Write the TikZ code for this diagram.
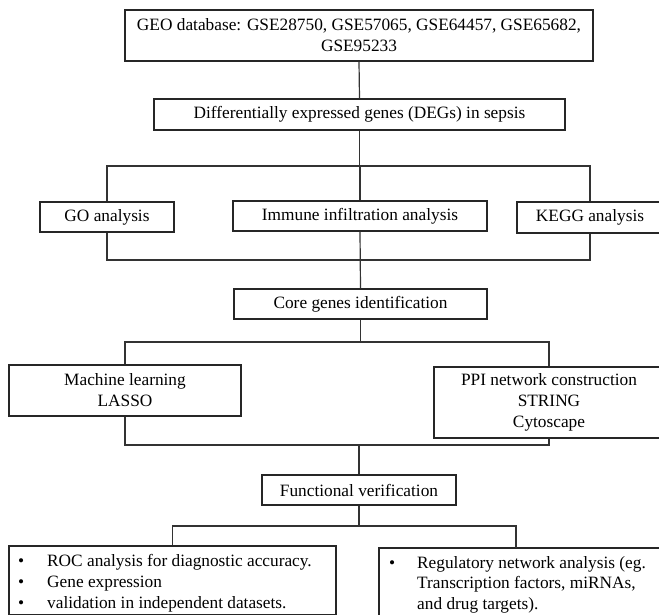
\documentclass[tikz,border=0pt]{standalone}
\usepackage{fontspec}
\setmainfont{Liberation Serif}
\begin{document}
\begin{tikzpicture}[x=1pt,y=-1pt,
  box/.style={draw=black!85,fill=white,line width=1.3pt,inner sep=0pt,align=center,
    font=\fontsize{17.3}{21}\selectfont},
  txt/.style={inner sep=0pt,font=\fontsize{17.3}{21}\selectfont},
  conn/.style={draw=black!80,line width=1.2pt}]
\useasboundingbox (0,0) rectangle (659,615);
% boxes
\node[box,minimum width=468,minimum height=51] (geo) at (359,35.5)
  {GEO database: GSE28750, GSE57065, GSE64457, GSE65682,\\GSE95233};
\node[box,minimum width=411,minimum height=31] (deg) at (359.5,114.5)
  {Differentially expressed genes (DEGs) in sepsis};
\node[box,minimum width=134,minimum height=30] (go) at (107,217) {GO analysis};
\node[box,minimum width=254,minimum height=30] (imm) at (360,216) {Immune infiltration analysis};
\node[box,minimum width=146,minimum height=31] (kegg) at (590,217.5) {KEGG analysis};
\node[box,minimum width=253,minimum height=30] (core) at (360.5,304) {Core genes identification};
\node[box,minimum width=232,minimum height=51] (ml) at (125,390.5) {Machine learning\\LASSO};
\node[box,minimum width=230,minimum height=71] (ppi) at (549,402.5)
  {PPI network construction\\STRING\\Cytoscape};
\node[box,minimum width=194,minimum height=30] (func) at (359,490) {Functional verification};
\node[box,minimum width=327,minimum height=68.5] (roc) at (172.5,580.25) {};
\node[box,minimum width=286,minimum height=92] (reg) at (522,594) {};
\node[txt,anchor=base west] (roct) at (18,566)
  {\begin{tabular}[t]{@{}p{29pt}@{}l@{}}
   \textbullet & ROC analysis for diagnostic accuracy.\\
   \textbullet & Gene expression\\
   \textbullet & validation in independent datasets.
   \end{tabular}};
\node[txt,anchor=base west] (regt) at (389,568)
  {\begin{tabular}[t]{@{}p{28pt}@{}l@{}}
   \textbullet & Regulatory network analysis (eg.\\[-0.5pt]
   & Transcription factors, miRNAs,\\[-0.5pt]
   & and drug targets).
   \end{tabular}};
% hub coordinates
\coordinate (h1) at (360,166);
\coordinate (h2) at (360,260);
\coordinate (h3) at (360,342);
\coordinate (h4) at (359,445);
\coordinate (h5) at (359,526);
\coordinate (regtop) at (516,548);
% connectors
\draw[conn] (geo.south) -- (deg.north);
\draw[conn] (deg.south) -- (deg.south |- h1);
\draw[conn] (go.north) -- (go.north |- h1) -- (kegg.north |- h1) -- (kegg.north);
\draw[conn] (imm.north |- h1) -- (imm.north);
\draw[conn] (go.south) -- (go.south |- h2) -- (kegg.south |- h2) -- (kegg.south);
\draw[conn] (imm.south) -- (core.north);
\draw[conn] (core.south) -- (core.south |- h3);
\draw[conn] (ml.north) -- (ml.north |- h3) -- (ppi.north |- h3) -- (ppi.north);
\draw[conn] (ml.south) -- (ml.south |- h4) -- (ppi.south |- h4) -- (ppi.south);
\draw[conn] (h4) -- (func.north);
\draw[conn] (func.south) -- (func.south |- h5);
\draw[conn] (roc.north) -- (roc.north |- h5) -- (regtop |- h5) -- (regtop);
\end{tikzpicture}
\end{document}
